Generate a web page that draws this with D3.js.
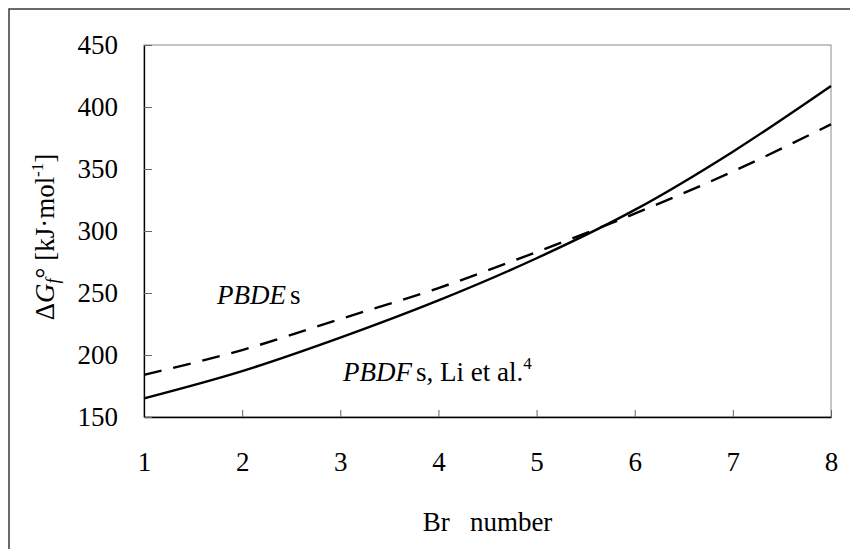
<!DOCTYPE html>
<html>
<head>
<meta charset="utf-8">
<script src="https://cdn.jsdelivr.net/npm/d3@7"></script>
<style>
  body { margin: 0; background: #fff; }
  svg text { font-family: "Times New Roman", "Liberation Serif", "DejaVu Serif", serif; fill: #000; }
</style>
</head>
<body>
<div id="chart"></div>
<script>
// data
var brNumber = [1, 2, 3, 4, 5, 6, 7, 8];
var pbdfValues = [165, 187, 214, 244, 278, 317, 364, 417];   // solid, Li et al.
var pbdeValues = [184, 204, 229, 254, 283, 314, 348, 386];   // dashed
var yTicks = [150, 200, 250, 300, 350, 400, 450];

// chart setup
var svgWidth = 850;
var svgHeight = 549;
var margin = { top: 45, right: 19, bottom: 132, left: 144 };
var width = svgWidth - margin.left - margin.right;
var height = svgHeight - margin.top - margin.bottom;
var serif = '"Times New Roman", "Liberation Serif", serif';

var svg = d3.select("#chart")
    .append("svg")
    .attr("width", svgWidth)
    .attr("height", svgHeight);

// outer frame (runs off at right and bottom)
svg.append("rect")
    .attr("x", 9).attr("y", 9)
    .attr("width", 1000).attr("height", 1000)
    .attr("fill", "none")
    .attr("stroke", "#3a3a3a")
    .attr("stroke-width", 1.5);

var chartGroup = svg.append("g")
    .attr("transform", `translate(${margin.left}, ${margin.top})`);

var xScale = d3.scaleLinear().domain([1, 8]).range([0, width]);
var yScale = d3.scaleLinear().domain([150, 450]).range([height, 0]);

// plot frame
chartGroup.append("rect")
    .attr("width", width).attr("height", height)
    .attr("fill", "none")
    .attr("stroke", "#8c8c8c")
    .attr("stroke-width", 1);

var bottomAxis = d3.axisBottom(xScale).tickValues(brNumber).tickFormat(d3.format("d"))
    .tickSizeInner(-7).tickSizeOuter(0).tickPadding(35);
var leftAxis = d3.axisLeft(yScale).tickValues(yTicks).tickFormat(d3.format("d"))
    .tickSizeInner(-8).tickSizeOuter(0).tickPadding(26);

var xg = chartGroup.append("g")
    .attr("transform", `translate(0, ${height})`)
    .call(bottomAxis);
var yg = chartGroup.append("g").call(leftAxis);

[xg, yg].forEach(function(g) {
    g.attr("font-family", serif);
    g.select(".domain").attr("stroke", "#000").attr("stroke-width", 1.3);
    g.selectAll(".tick line").attr("stroke", "#666");
    g.selectAll(".tick text")
        .style("font-size", "27px")
        .attr("fill", "#000");
});

// curves
var line = d3.line()
    .x((d, i) => xScale(brNumber[i]))
    .y(d => yScale(d))
    .curve(d3.curveMonotoneX);

chartGroup.append("path")
    .datum(pbdeValues)
    .attr("d", line)
    .attr("fill", "none")
    .attr("stroke", "#000")
    .attr("stroke-width", 2.4)
    .attr("stroke-dasharray", "18,12");

chartGroup.append("path")
    .datum(pbdfValues)
    .attr("d", line)
    .attr("fill", "none")
    .attr("stroke", "#000")
    .attr("stroke-width", 2.4);

// annotations
var t1 = svg.append("text")
    .attr("x", 217).attr("y", 304)
    .style("font-size", "27px");
t1.append("tspan").style("font-style", "italic").text("PBDE");
t1.append("tspan").attr("dx", 4).text("s");

var t2 = svg.append("text")
    .attr("x", 343).attr("y", 381)
    .style("font-size", "27px");
t2.append("tspan").style("font-style", "italic").text("PBDF");
t2.append("tspan").attr("dx", 4).text("s, Li et al.");
t2.append("tspan").attr("dy", -12).style("font-size", "17px").text("4");

// axis titles
svg.append("text")
    .attr("x", margin.left + width / 2).attr("y", 531)
    .attr("text-anchor", "middle")
    .attr("xml:space", "preserve")
    .style("font-size", "27px")
    .text("Br   number");

var yl = svg.append("text")
    .attr("transform", "translate(54, 237) rotate(-90)")
    .attr("text-anchor", "middle")
    .style("font-size", "27px");
yl.append("tspan").text("Δ");
yl.append("tspan").style("font-style", "italic").text("G");
yl.append("tspan").style("font-style", "italic").style("font-size", "18px").attr("dy", 5).text("f");
yl.append("tspan").attr("dy", -5).text("° [kJ·mol");
yl.append("tspan").style("font-size", "17px").attr("dy", -11).text("-1");
yl.append("tspan").attr("dy", 11).text("]");
</script>
</body>
</html>
